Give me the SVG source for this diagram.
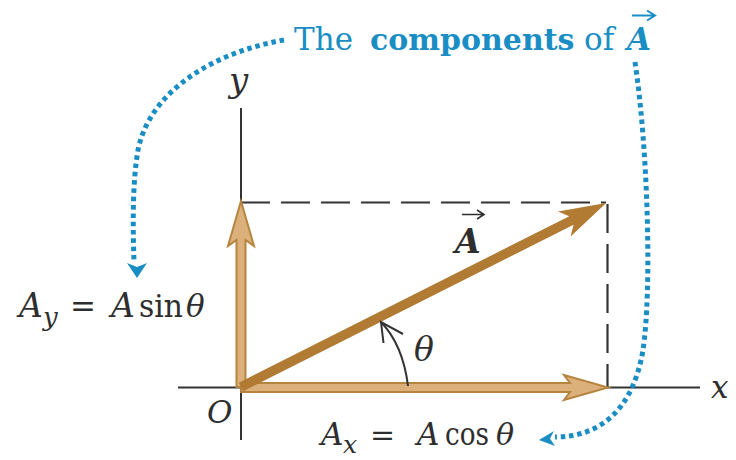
<svg xmlns="http://www.w3.org/2000/svg" width="736" height="460" viewBox="0 0 736 460">
<style>
text{font-family:"DejaVu Serif","Liberation Serif",serif;fill:#2e2e2e}
.i{font-style:italic}
.b{font-weight:bold}
.blue{fill:#1a8ec4}
.axis{stroke:#333;stroke-width:2;fill:none}
.dash{stroke:#333;stroke-width:2.2;fill:none;stroke-dasharray:29 11}
.dot{stroke:#1a8ec4;stroke-width:5;fill:none;stroke-dasharray:4.5 3.8}
.comp{fill:#dcb07b;stroke:#b5843f;stroke-width:2;stroke-linejoin:miter}
.vec{fill:#b17b34}
</style>
<rect width="736" height="460" fill="#fff"/>

<g id="axes">
  <path class="axis" d="M241,108 V440"/>
  <path class="axis" d="M178,387.5 H700"/>
  <text class="i" x="229" y="92" font-size="34">y</text>
  <text class="i" x="711" y="398" font-size="31">x</text>
  <text class="i" x="207" y="423" font-size="31">O</text>
</g>

<g id="guides">
  <path class="dash" d="M241,202.5 H606"/>
  <path class="dash" d="M607.5,204 V387"/>
</g>

<g id="Ay">
  <path class="comp" d="M236.5,387 V240 L228,246 L241,201 L254,246 L245.5,240 V387 Z"/>
</g>

<g id="Ax">
  <path class="comp" d="M241,383 H570 L564,375 L608,387.5 L564,400 L570,392 H241 Z"/>
</g>

<g id="A">
  <g transform="translate(241,387) rotate(-26.75)">
    <path class="vec" d="M0,-4.8 H370 L362,-14 L409,0 L362,14 L370,4.8 H0 Z"/>
  </g>
  <text class="i b" x="455" y="253" font-size="33">A</text>
  <path d="M462,214.5 H483 M477,210 L484,214.5 L477,219" stroke="#2e2e2e" stroke-width="1.6" fill="none"/>
</g>

<g id="theta">
  <path class="axis" d="M408,386 Q403,345 381,322"/>
  <path class="axis" d="M383.5,343 L381,322 L403,334"/>
  <text class="i" x="414" y="361" font-size="33">θ</text>
</g>

<g id="title">
  <text class="blue" y="50" font-size="31"><tspan x="294">The</tspan><tspan class="b" x="370" font-size="30">components</tspan><tspan x="584">of</tspan><tspan class="b i" x="627">A</tspan></text>
  <path d="M632,15.5 H654 M647,10.5 L655,15.5 L647,20.5" stroke="#1a8ec4" stroke-width="2" fill="none"/>
</g>

<g id="Ay-label">
  <text class="i" x="19" y="317" font-size="33">A</text>
  <text class="i" x="43" y="326" font-size="26">y</text>
  <text x="70" y="317" font-size="31">=</text>
  <text class="i" x="111" y="317" font-size="33">A</text>
  <text x="139" y="317" font-size="32" textLength="44" lengthAdjust="spacingAndGlyphs">sin</text>
  <text class="i" x="186" y="317" font-size="31">θ</text>
</g>

<g id="Ax-label">
  <text class="i" x="321" y="445" font-size="31">A</text>
  <text class="i" x="343" y="453" font-size="25">x</text>
  <text x="370" y="445" font-size="30">=</text>
  <text class="i" x="417" y="445" font-size="31">A</text>
  <text x="445" y="445" font-size="31" textLength="44" lengthAdjust="spacingAndGlyphs">cos</text>
  <text class="i" x="496" y="445" font-size="30">θ</text>
</g>

<g id="connectors">
  <path class="dot" d="M284,40 C215,52 150,90 138,150 C132,185 133,230 134,262"/>
  <path d="M127,263 L137,267 L147,263 L137,278 Z" fill="#1a8ec4"/>
  <path class="dot" d="M635,62 C648,150 652,290 643,350 C633,410 600,437 555,437"/>
  <path d="M554,431 L550,438.5 L555,446 L539,440 Z" fill="#1a8ec4"/>
</g>
</svg>
